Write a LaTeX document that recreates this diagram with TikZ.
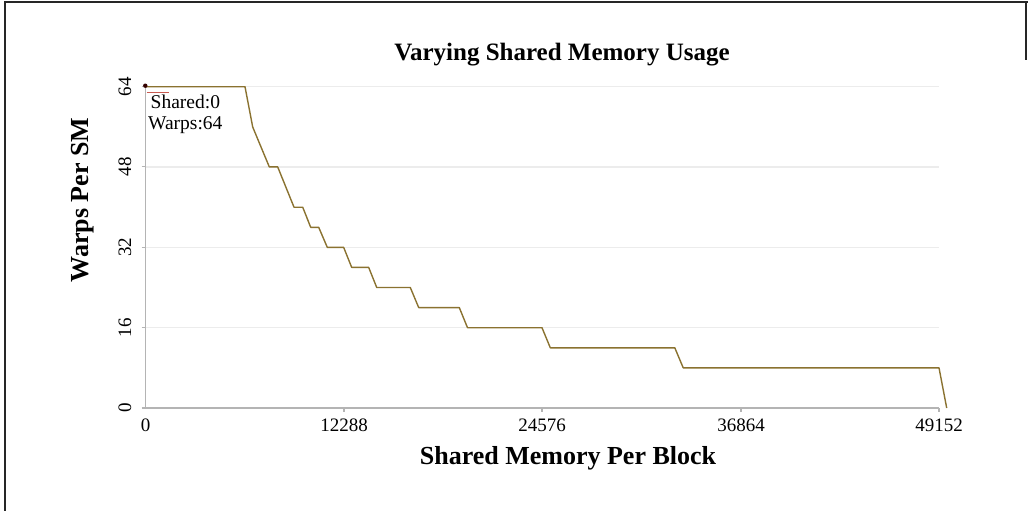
\documentclass[tikz,border=0pt]{standalone}
\usepackage{fontspec}
\setmainfont{Liberation Serif}
\definecolor{curve}{RGB}{138,114,48}
\definecolor{gridc}{RGB}{236,236,236}
\definecolor{axisc}{RGB}{180,180,180}
\definecolor{marker}{RGB}{200,90,80}
\begin{document}
\begin{tikzpicture}[x=1pt,y=-1pt,
  ticklab/.style={font=\fontsize{19}{21}\selectfont, inner sep=0pt},
  axtitle/.style={font=\fontsize{26}{28}\selectfont\bfseries, inner sep=0pt},
  grid line/.style={gridc, line width=1.4pt},
  axis line/.style={axisc, line width=1.1pt},
  data line/.style={curve, line width=1.4pt, line join=round}]
\useasboundingbox (0,0) rectangle (1028,511);
% frame
\draw[line width=2pt, black!85] (1028,2.5) -- (5,2.5) -- (5,511);
\draw[line width=1.5pt, black!85] (1026,2.5) -- (1026,60);
% grid
\foreach \v/\y in {64/86.7,48/166.9,32/247.4,16/327.7}{
  \draw[grid line] (145.5,\y) -- (939,\y);
  \node[ticklab, rotate=90] (yl\v) at (125,\y) {\v};
  \draw[axis line] (141.5,\y) -- (145.5,\y);
}
\node[ticklab, rotate=90] (yl0) at (125,408) {0};
% axes
\draw[axis line] (145.5,86.7) -- (145.5,408);
\draw[axis line] (141.5,408) -- (939,408);
\foreach \d/\x in {12288/344,24576/542,36864/741,49152/939}{
  \draw[axis line] (\x,408) -- (\x,412);
  \node[ticklab] (xl\d) at (\x,425) {\d};
}
\node[ticklab] (xl0) at (145.5,425) {0};
% titles
\node[font=\fontsize{25}{27}\selectfont\bfseries, inner sep=0pt] (title) at (562,55) {Varying Shared Memory Usage};
\node[axtitle] (xtitle) at (568,458) {Shared Memory Per Block};
\node[axtitle, rotate=90] (ytitle) at (83,200) {Warps Per SM};
% data
\draw[data line] (145.5,86.7) -- (245,86.7) -- (252.7,127) -- (269.3,166.9) -- (277.7,166.9)
  -- (294,207.2) -- (302.7,207.2) -- (310.7,227.3) -- (318.7,227.3) -- (327.3,247.4)
  -- (343.7,247.4) -- (351.7,267.4) -- (368.7,267.4) -- (376.7,287.5) -- (410.3,287.5)
  -- (418.7,307.6) -- (459.3,307.6) -- (467.5,327.7) -- (542,327.7) -- (550.3,347.8)
  -- (674.8,347.8) -- (683.2,367.8) -- (939,367.8) -- (946.7,408);
% annotation
\fill[black!80!red] (145.3,85.7) circle (2.2);
\draw[marker, line width=0.9pt] (146.7,92.3) -- (169.3,92.3);
\node[anchor=west, font=\fontsize{19.5}{21}\selectfont, inner sep=0pt] (ann1) at (150.5,102) {Shared:0};
\node[anchor=west, font=\fontsize{19.5}{21}\selectfont, inner sep=0pt] (ann2) at (148,125) {Warps:64};
\end{tikzpicture}
\end{document}
